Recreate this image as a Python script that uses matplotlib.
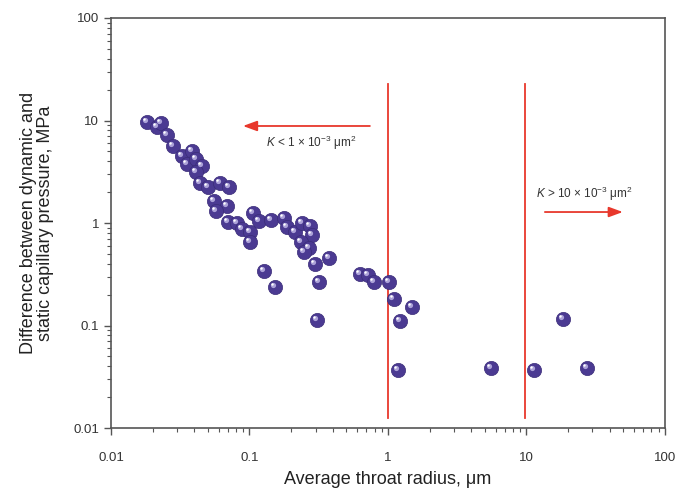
import matplotlib
matplotlib.use("Agg")
import matplotlib.pyplot as plt
import matplotlib.transforms as mtransforms
from matplotlib.ticker import LogLocator, FixedLocator, NullFormatter

plt.rcParams["font.family"] = ["Liberation Sans", "DejaVu Sans"]
plt.rcParams["mathtext.fontset"] = "custom"
plt.rcParams["mathtext.rm"] = "Liberation Sans"
plt.rcParams["mathtext.it"] = "Liberation Sans:italic"

# average throat radius (um) and dynamic - static capillary pressure (MPa)
radius = [0.0182, 0.0215, 0.0230, 0.0254, 0.0280, 0.0326, 0.0385, 0.0354, 0.0411,
          0.0454, 0.0411, 0.0439, 0.0501, 0.0612, 0.0711, 0.0554, 0.0688, 0.0573,
          0.0699, 0.0812, 0.0883, 0.101, 0.101, 0.106, 0.117, 0.143, 0.177, 0.187,
          0.213, 0.239, 0.273, 0.283, 0.235, 0.269, 0.247, 0.127, 0.153, 0.297,
          0.375, 0.318, 0.307, 0.628, 0.717, 0.792, 1.02, 1.10, 1.49, 1.22, 1.18,
          5.54, 11.3, 18.4, 27.3]
pressure = [9.67, 8.65, 9.46, 7.22, 5.64, 4.51, 5.04, 3.77, 4.21,
            3.60, 3.14, 2.46, 2.24, 2.46, 2.24, 1.64, 1.47, 1.31,
            1.02, 1.00, 0.874, 0.816, 0.653, 1.25, 1.05, 1.07, 1.12, 0.914,
            0.816, 1.00, 0.935, 0.764, 0.653, 0.570, 0.521, 0.340, 0.238, 0.398,
            0.456, 0.266, 0.113, 0.318, 0.311, 0.266, 0.266, 0.181, 0.151, 0.111, 0.0368,
            0.0385, 0.0368, 0.116, 0.0385]

boundaries = [1, 9.8]          # permeability class boundaries on the radius axis
boundary_span = [0.0125, 22.7]

fig = plt.figure(figsize=(6.75, 4.93), dpi=100)
ax = fig.add_axes([0.1644, 0.1318, 0.8206, 0.8317])

ax.set_xscale("log")
ax.set_yscale("log")
ax.set_xlim(0.01, 100)
ax.set_ylim(0.01, 100)

# boundary lines
for b in boundaries:
    ax.plot([b, b], boundary_span, color="#e8382c", lw=1.3, zorder=2)

# spheres: dark purple ball + small offset highlight
ax.scatter(radius, pressure, s=105, color="#4b3a92", edgecolors="#3a2c78",
           linewidths=0.5, zorder=3)
hl = mtransforms.offset_copy(ax.transData, fig=fig, x=-1.6, y=1.6, units="points")
ax.scatter(radius, pressure, s=14, color="#b7aee0", alpha=0.9, linewidths=0,
           transform=hl, zorder=4)
hl2 = mtransforms.offset_copy(ax.transData, fig=fig, x=-2.0, y=2.0, units="points")
ax.scatter(radius, pressure, s=3, color="white", linewidths=0, transform=hl2, zorder=5)

# arrows and permeability labels
arrow_style = dict(arrowstyle="-|>,head_length=0.6,head_width=0.22", color="#e8382c",
                   lw=1.3, mutation_scale=14, shrinkA=0, shrinkB=0)
ax.annotate("", xy=(0.0898, 8.84), xytext=(0.741, 8.84), arrowprops=arrow_style)
ax.text(0.278, 6.0, r"$K$ < 1 × 10$^{-3}$ μm$^{2}$", fontsize=8.5, color="#333333",
        ha="center", va="center")
ax.annotate("", xy=(49.7, 1.28), xytext=(13.6, 1.28), arrowprops=arrow_style)
ax.text(26.4, 1.92, r"$K$ > 10 × 10$^{-3}$ μm$^{2}$", fontsize=8.5, color="#333333",
        ha="center", va="center")

# axes styling
for side in ["top", "right", "left", "bottom"]:
    ax.spines[side].set_color("#555555")
    ax.spines[side].set_linewidth(1.2)

ax.xaxis.set_major_locator(FixedLocator([0.01, 0.1, 1, 10, 100]))
ax.yaxis.set_major_locator(FixedLocator([0.01, 0.1, 1, 10, 100]))
ax.xaxis.set_minor_locator(LogLocator(base=10, subs=range(2, 10)))
ax.yaxis.set_minor_locator(LogLocator(base=10, subs=range(2, 10)))
ax.xaxis.set_minor_formatter(NullFormatter())
ax.yaxis.set_minor_formatter(NullFormatter())
ax.set_xticklabels(["0.01", "0.1", "1", "10", "100"])
ax.set_yticklabels(["0.01", "0.1", "1", "10", "100"])

ax.tick_params(which="both", direction="out", color="#555555", labelcolor="#333333",
               labelsize=9.5)
ax.tick_params(which="major", length=5, width=1)
ax.tick_params(which="minor", length=3, width=0.8)
ax.tick_params(axis="x", which="major", pad=12)

ax.set_xlabel("Average throat radius, μm", fontsize=13, color="#222222", labelpad=5)
ax.set_ylabel("Difference between dynamic and\nstatic capillary pressure, MPa",
              fontsize=13, color="#222222", labelpad=14, linespacing=1.0)

fig.savefig("out.png", dpi=100)
